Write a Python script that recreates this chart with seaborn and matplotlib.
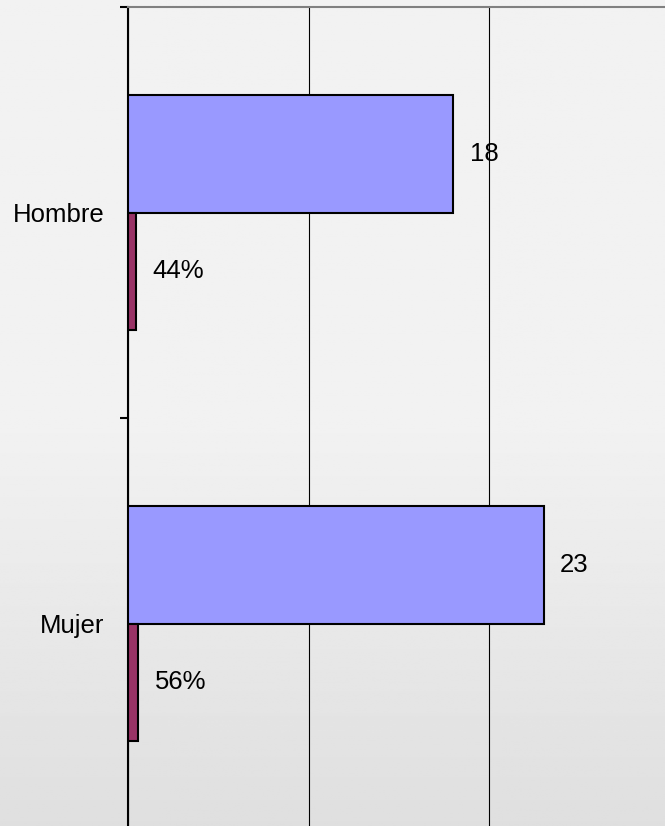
import numpy as np
import pandas as pd
import matplotlib
matplotlib.use("Agg")
import matplotlib.pyplot as plt
import seaborn as sns

# data
categorias = ["Hombre", "Mujer"]
cantidad = [18, 23]
porcentaje = [0.44, 0.56]
series = ["Cantidad", "Porcentaje"]
colores = ["#9999FF", "#993366"]

df = pd.DataFrame({
    "categoria": categorias * 2,
    "serie": [series[0]] * 2 + [series[1]] * 2,
    "valor": cantidad + porcentaje,
})

sns.set_theme(style="white")
plt.rcParams["font.family"] = ["Liberation Sans", "DejaVu Sans"]
plt.rcParams["text.color"] = "black"
plt.rcParams["ytick.color"] = "black"

W, H = 665, 826
fig = plt.figure(figsize=(W / 100, H / 100), dpi=100)

# background gradient over the whole figure
bg = fig.add_axes([0, 0, 1, 1], zorder=-10)
t = np.linspace(0, 1, 400)
shade = np.where(t < 0.5, 0xF2, 0xF2 - (t - 0.5) / 0.5 * (0xF2 - 0xDF)) / 255.0
img = np.repeat(shade[:, None], 2, axis=1)
bg.imshow(img, cmap="gray", vmin=0, vmax=1, aspect="auto", extent=[0, 1, 0, 1], origin="upper")
bg.axis("off")

# plot area: left edge at x=128, top at y=7, extends slightly beyond bottom/right
left, top, bottom, right = 128, 7, 829, 670
ax = fig.add_axes([left / W, (H - bottom) / H, (right - left) / W, (bottom - top) / H])
ax.set_facecolor("none")

sns.barplot(data=df, y="categoria", x="valor", hue="serie", order=categorias,
            hue_order=series, palette=colores, orient="h", width=0.57,
            saturation=1, edgecolor="black", linewidth=1.5, legend=False,
            ax=ax, zorder=3)

for cont, fmt in zip(ax.containers, ["{:.0f}", "{:.0%}"]):
    ax.bar_label(cont, labels=[fmt.format(b.get_width()) for b in cont],
                 padding=12, fontsize=18.5, color="black")

ax.set_xlim(0, 30)
ax.set_ylim(1.5, -0.5)
ax.set_xticks([0, 10, 20, 30])
ax.set_xticklabels([])
ax.tick_params(axis="x", length=0)
ax.grid(axis="x", color="black", linewidth=0.8, zorder=0)
ax.set_axisbelow(True)

ax.set_yticks([-0.5, 0.5, 1.5])
ax.set_yticklabels([])
ax.set_yticks([0, 1], minor=True)
ax.set_yticklabels(categorias, minor=True, fontsize=18.5, color="black")
ax.tick_params(axis="y", which="major", length=6, width=1.5, color="black", direction="out", left=True)
ax.tick_params(axis="y", which="minor", length=0, pad=17)

ax.set_xlabel("")
ax.set_ylabel("")
ax.spines["left"].set_color("black")
ax.spines["left"].set_linewidth(1.5)
ax.spines["top"].set_color("#808080")
ax.spines["top"].set_linewidth(1.5)
ax.spines["right"].set_visible(False)
ax.spines["bottom"].set_visible(False)

fig.savefig("out.png", dpi=100)
